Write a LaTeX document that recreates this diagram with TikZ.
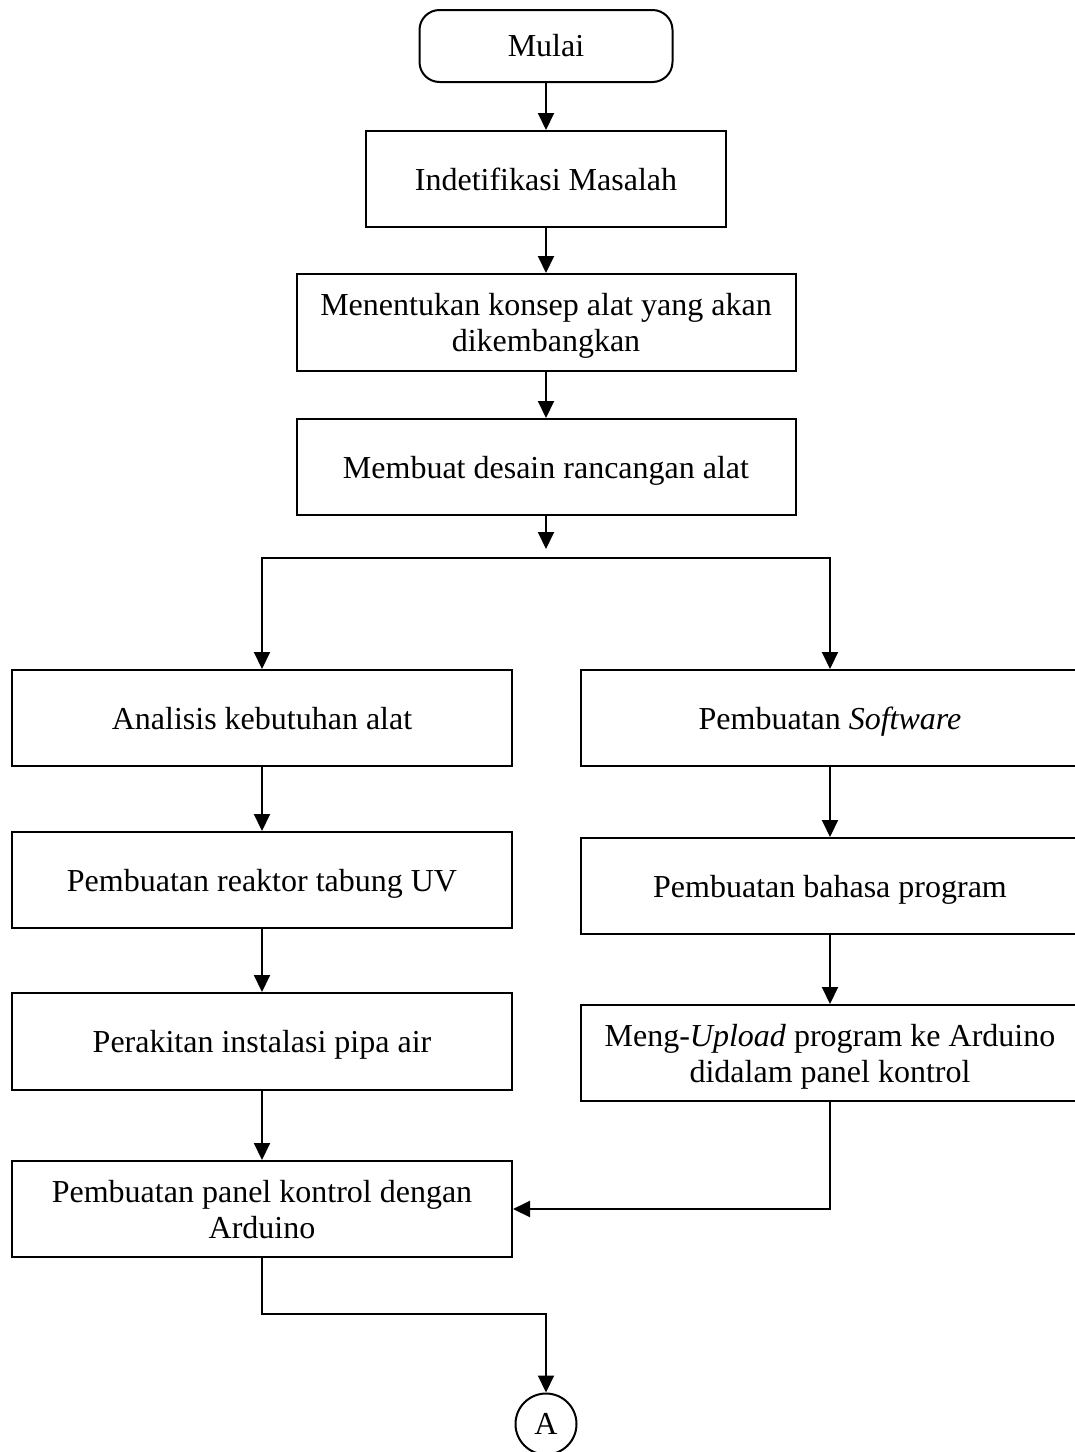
\documentclass[tikz,border=0pt]{standalone}
\usepackage{fontspec}
\setmainfont{Liberation Serif}
\usepackage{tikz}
\usetikzlibrary{shapes,arrows,positioning,calc,arrows.meta}

\begin{document}
\begin{tikzpicture}[x=0.5pt, y=-0.5pt,
    every node/.style={font=\fontsize{16}{18}\selectfont, align=center},
    proses/.style={draw, line width=1pt, rectangle, inner sep=0pt, text depth=0pt, minimum height=48pt},
    terminal/.style={draw, line width=1pt, rectangle, rounded corners=10pt, minimum width=126.5pt, minimum height=36pt},
    konektor/.style={draw, line width=1pt, circle, inner sep=0pt, minimum size=30.5pt},
    panah/.style={-{Triangle[length=8.5pt,width=8pt]}, line width=1pt}]
    \useasboundingbox (0,0) rectangle (1075,1452);

    % alur utama
    \node[terminal] (mulai) at (546,46) {Mulai};
    \node[proses, minimum width=180pt] (ident) at (546,179) {Indetifikasi Masalah};
    \node[proses, minimum width=249.5pt, minimum height=48.5pt] (konsep) at (546,322.5) {Menentukan konsep alat yang akan\\dikembangkan};
    \node[proses, minimum width=249.5pt] (desain) at (546,467) {Membuat desain rancangan alat};

    % cabang kiri
    \node[proses, minimum width=250pt] (analisis) at (262,718) {Analisis kebutuhan alat};
    \node[proses, minimum width=250pt] (reaktor) at (262,880) {Pembuatan reaktor tabung UV};
    \node[proses, minimum width=250pt, minimum height=48.5pt] (pipa) at (262,1041.5) {Perakitan instalasi pipa air};
    \node[proses, minimum width=250pt] (panel) at (262,1209) {Pembuatan panel kontrol dengan\\Arduino};

    % cabang kanan
    \node[proses, minimum width=249pt] (software) at (830,718) {Pembuatan \textit{Software}};
    \node[proses, minimum width=249pt] (bahasa) at (830,886) {Pembuatan bahasa program};
    \node[proses, minimum width=249pt] (upload) at (830,1053) {Meng-\textit{Upload} program ke Arduino\\didalam panel kontrol};

    \node[konektor] (A) at (546,1424) {A};

    \coordinate (ujung) at (546,549);
    \coordinate (pisah) at (546,558);
    \coordinate (belok) at (262,1314);

    \draw[panah] (mulai) -- (ident);
    \draw[panah] (ident) -- (konsep);
    \draw[panah] (konsep) -- (desain);
    \draw[panah] (desain) -- (ujung);
    \draw[panah] (pisah) -| (analisis);
    \draw[panah] (pisah) -| (software);
    \draw[panah] (analisis) -- (reaktor);
    \draw[panah] (reaktor) -- (pipa);
    \draw[panah] (pipa) -- (panel);
    \draw[panah] (software) -- (bahasa);
    \draw[panah] (bahasa) -- (upload);
    \draw[panah] (upload.south) |- (panel.east);
    \draw[panah] (panel.south) -- (belok) -| (A.north);
\end{tikzpicture}
\end{document}
